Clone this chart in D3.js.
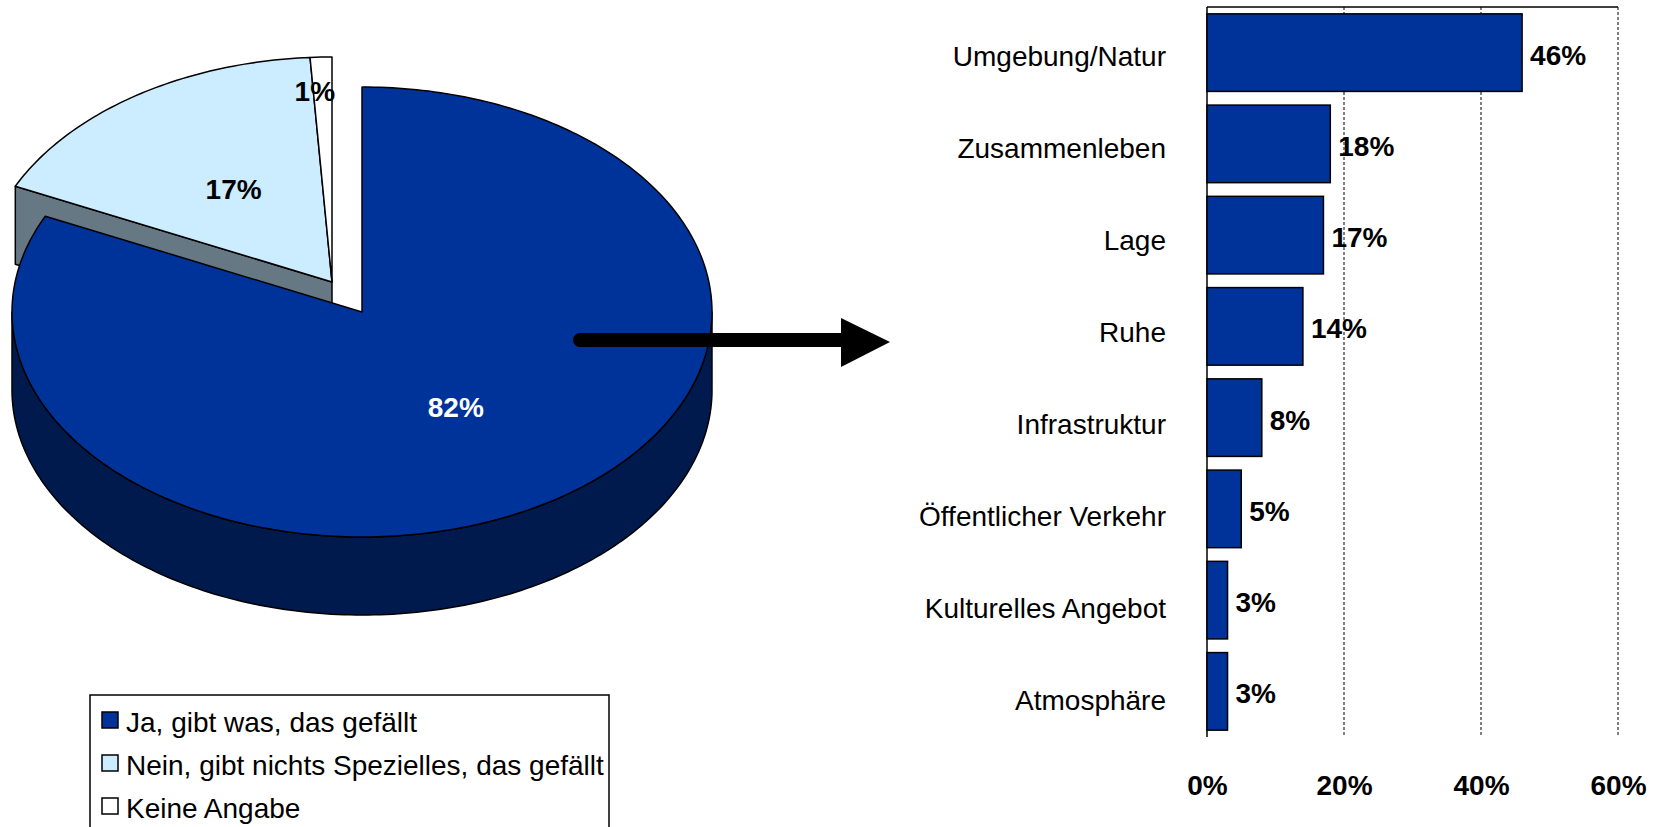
<!DOCTYPE html>
<html lang="de">

<head>
    <meta charset="UTF-8">
    <title>Gefällt etwas am Wohnort?</title>
    <script src="https://d3js.org/d3.v7.min.js"></script>
    <style>
        body {
            margin: 0;
            background: #fff;
        }

        svg {
            display: block;
            font-family: Arial, "Liberation Sans", sans-serif;
        }
    </style>
</head>

<body>
    <div id="chart"></div>
    <script>
        // Kreisdiagramm
        const pieLabels = ["Ja, gibt was, das gefällt", "Nein, gibt nichts Spezielles, das gefällt", "Keine Angabe"];
        const pieValues = [82, 17, 1];
        const pieColors = ["#003399", "#CCECFF", "#FFFFFF"];
        const pieSideColors = ["#001A4D", "#667884", "#BFBFBF"];

        // Balkendiagramm
        const barCategories = ["Umgebung/Natur", "Zusammenleben", "Lage", "Ruhe", "Infrastruktur",
            "Öffentlicher Verkehr", "Kulturelles Angebot", "Atmosphäre"];
        const barValues = [46, 18, 17, 14, 8, 5, 3, 3];
        const xTicks = [0, 20, 40, 60];

        const width = 1656, height = 827;
        const svg = d3.select("#chart")
            .append("svg")
            .attr("width", width)
            .attr("height", height);

        // ---- 3D-Kreis ----
        const rx = 350, ry = 225, depth = 78;
        const baseCx = 332, baseCy = 282;
        const explode = [[30, 30], [0, 0], [0, 0]];

        const arcs = d3.pie().sort(null).value(d => d)(pieValues);
        arcs.forEach((a, i) => {
            a.i = i;
            a.cx = baseCx + explode[i][0];
            a.cy = baseCy + explode[i][1];
        });

        const pt = (a, ang, dz = 0) => [a.cx + rx * Math.sin(ang), a.cy - ry * Math.cos(ang) + dz];
        const sample = (a0, a1) => {
            const n = Math.max(2, Math.ceil((a1 - a0) / (Math.PI / 180)));
            return d3.range(n + 1).map(k => a0 + (a1 - a0) * k / n);
        };
        const line = d3.line();
        const sameGroup = (i, j) => explode[i][0] === explode[j][0] && explode[i][1] === explode[j][1];

        const pieG = svg.append("g");
        const order = arcs.slice().sort((a, b) => a.cy - b.cy);

        order.forEach(a => {
            const g = pieG.append("g");
            const n = arcs.length;
            const style = sel => sel.attr("stroke", "#000").attr("stroke-width", 1.5).attr("stroke-linejoin", "round");

            // Schnittflächen
            const faces = [];
            if (Math.sin(a.startAngle) < -1e-6 && (a.i === 0 || !sameGroup(a.i, a.i - 1))) faces.push(a.startAngle);
            if (Math.sin(a.endAngle) > 1e-6 && (a.i === n - 1 || !sameGroup(a.i, a.i + 1))) faces.push(a.endAngle);
            faces.forEach(ang => {
                const pts = [[a.cx, a.cy], pt(a, ang), pt(a, ang, depth), [a.cx, a.cy + depth]];
                g.append("path").attr("d", line(pts) + "Z").attr("fill", pieSideColors[a.i]).call(style);
            });

            // Außenwand (vorne)
            const lo = Math.max(a.startAngle, Math.PI / 2);
            const hi = Math.min(a.endAngle, 3 * Math.PI / 2);
            if (lo < hi) {
                const s = sample(lo, hi);
                const pts = s.map(t => pt(a, t)).concat(s.slice().reverse().map(t => pt(a, t, depth)));
                g.append("path").attr("d", line(pts) + "Z").attr("fill", pieSideColors[a.i]).call(style);
            }

            // Oberseite
            const top = [[a.cx, a.cy]].concat(sample(a.startAngle, a.endAngle).map(t => pt(a, t)));
            g.append("path").attr("d", line(top) + "Z").attr("fill", pieColors[a.i]).call(style);
        });

        // Prozentwerte im Kreis
        pieG.selectAll("text.pie-label")
            .data(arcs)
            .enter()
            .append("text")
            .attr("class", "pie-label")
            .attr("x", a => {
                const mid = (a.startAngle + a.endAngle) / 2;
                const f = a.value < 5 ? 0.85 : 0.5;
                return a.cx + f * rx * Math.sin(mid);
            })
            .attr("y", a => {
                const mid = (a.startAngle + a.endAngle) / 2;
                const f = a.value < 5 ? 0.85 : 0.5;
                return a.cy - f * ry * Math.cos(mid);
            })
            .attr("dx", a => a.value < 5 ? "-0.28em" : 0)
            .attr("dy", "0.36em")
            .attr("text-anchor", "middle")
            .attr("font-size", 28)
            .attr("font-weight", "bold")
            .attr("fill", a => d3.hsl(pieColors[a.i]).l < 0.5 ? "#fff" : "#000")
            .text(a => a.value + "%");

        // Pfeil
        svg.append("line")
            .attr("x1", 580).attr("y1", 340)
            .attr("x2", 846).attr("y2", 340)
            .attr("stroke", "#000")
            .attr("stroke-width", 14)
            .attr("stroke-linecap", "round");
        svg.append("path")
            .attr("d", "M841,318 L890,342 L841,367 Z")
            .attr("fill", "#000");

        // Legende
        const legend = svg.append("g").attr("transform", "translate(90,695)");
        legend.append("rect")
            .attr("width", 519)
            .attr("height", 140)
            .attr("fill", "#fff")
            .attr("stroke", "#000")
            .attr("stroke-width", 1.5);
        const rows = legend.selectAll("g.row")
            .data(pieLabels)
            .enter()
            .append("g")
            .attr("class", "row")
            .attr("transform", (d, i) => `translate(0,${27 + i * 43})`);
        rows.append("rect")
            .attr("x", 12).attr("y", -10)
            .attr("width", 16).attr("height", 16)
            .attr("fill", (d, i) => pieColors[i])
            .attr("stroke", "#000")
            .attr("stroke-width", 1.5);
        rows.append("text")
            .attr("x", 36)
            .attr("dy", "0.36em")
            .attr("font-size", 28)
            .text(d => d);

        // ---- Balken ----
        const x = d3.scaleLinear().domain([0, 60]).range([1207, 1618]);
        const y = d3.scaleBand()
            .domain(barCategories)
            .range([7, 737])
            .paddingInner(0.15)
            .paddingOuter(0.075);
        const yLab = d3.scalePoint().domain(barCategories).range([55, 699]);

        // Gitterlinien
        svg.selectAll("line.grid")
            .data(xTicks.filter(t => t > 0))
            .enter()
            .append("line")
            .attr("class", "grid")
            .attr("x1", d => x(d)).attr("x2", d => x(d))
            .attr("y1", 7).attr("y2", 737)
            .attr("stroke", "#000")
            .attr("stroke-width", 1)
            .attr("stroke-dasharray", "3,2");

        svg.append("line")
            .attr("x1", x(0)).attr("x2", x(60))
            .attr("y1", 7).attr("y2", 7)
            .attr("stroke", "#000")
            .attr("stroke-width", 1.5);

        svg.append("line")
            .attr("x1", x(0)).attr("x2", x(0))
            .attr("y1", 7).attr("y2", 737)
            .attr("stroke", "#000")
            .attr("stroke-width", 1.5);

        svg.selectAll("rect.bar")
            .data(barValues)
            .enter()
            .append("rect")
            .attr("class", "bar")
            .attr("x", x(0))
            .attr("y", (d, i) => y(barCategories[i]))
            .attr("width", d => x(d) - x(0))
            .attr("height", y.bandwidth())
            .attr("fill", "#003399")
            .attr("stroke", "#000")
            .attr("stroke-width", 1.5);

        svg.selectAll("text.val")
            .data(barValues)
            .enter()
            .append("text")
            .attr("class", "val")
            .attr("x", d => x(d) + 8)
            .attr("y", (d, i) => y(barCategories[i]) + y.bandwidth() / 2)
            .attr("dy", "0.43em")
            .attr("font-size", 28)
            .attr("font-weight", "bold")
            .text(d => d + "%");

        // Kategorien
        const yAxis = svg.append("g")
            .attr("transform", `translate(${x(0)},0)`)
            .call(d3.axisLeft(yLab).tickSize(0).tickPadding(41));
        yAxis.select(".domain").remove();
        yAxis.selectAll("text")
            .attr("dy", "0.36em")
            .attr("font-size", 28)
            .attr("font-family", "Arial, 'Liberation Sans', sans-serif")
            .attr("fill", "#000");

        // x-Achse
        const xAxis = svg.append("g")
            .attr("transform", "translate(0,737)")
            .call(d3.axisBottom(x).tickValues(xTicks).tickFormat(d => d + "%").tickSize(0).tickPadding(38));
        xAxis.select(".domain").remove();
        xAxis.selectAll("text")
            .attr("font-size", 28)
            .attr("font-weight", "bold")
            .attr("font-family", "Arial, 'Liberation Sans', sans-serif")
            .attr("fill", "#000");
    </script>
</body>

</html>
